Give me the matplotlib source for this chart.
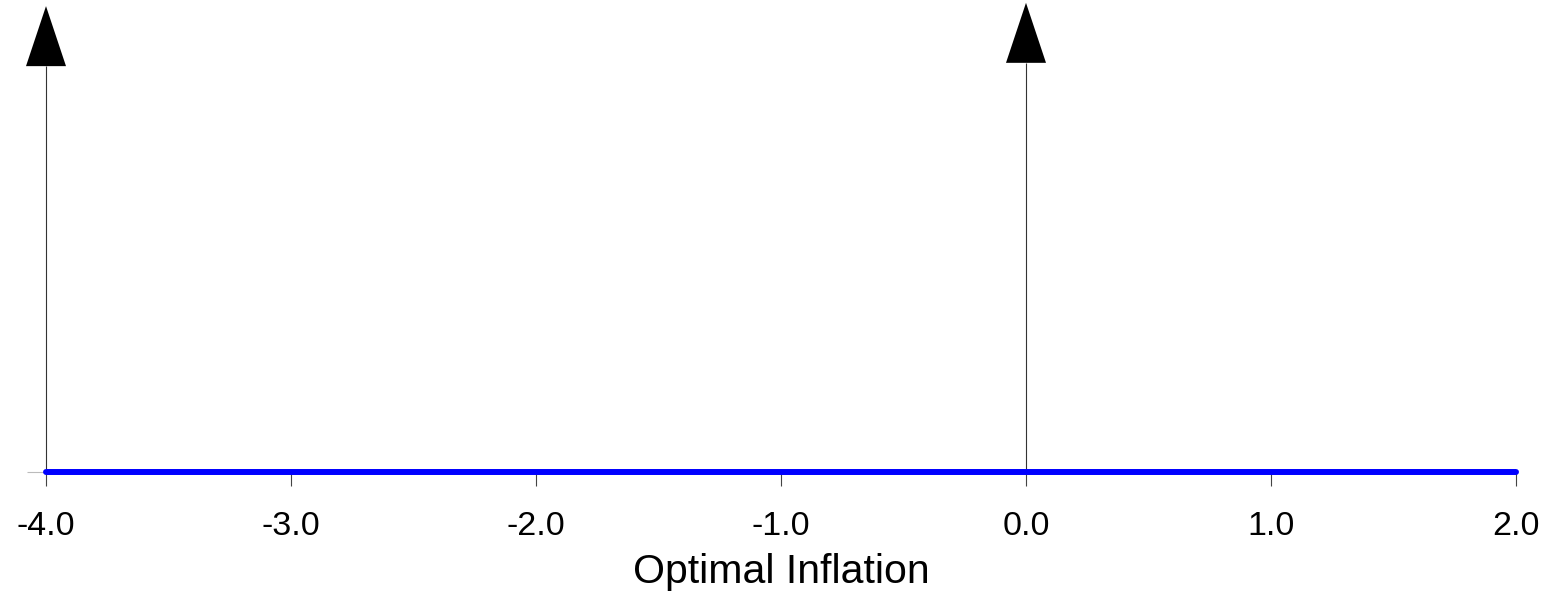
import matplotlib.pyplot as plt
import matplotlib as mpl

mpl.rcParams['font.family'] = ['Liberation Sans', 'DejaVu Sans']

# Point masses of the optimal inflation distribution
mass_locs = [-4.0, 0.0]
mass_heights = [0.987, 0.994]

# Continuous density part (zero everywhere)
dens_x = [-4.0, 2.0]
dens_y = [0.0, 0.0]

xticks = [-4.0, -3.0, -2.0, -1.0, 0.0, 1.0, 2.0]
xticklabels = ['%.1f' % t for t in xticks]

fig = plt.figure(figsize=(15.43, 5.94), dpi=100)
ax = fig.add_axes([46 / 1543, (594 - 472) / 594, 1470 / 1543, 472 / 594])

ax.set_xlim(-4.0, 2.0)
ax.set_ylim(0, 1.0)

# arrows for the point masses
px_x = 6.0 / 1470  # data units per pixel, x
px_y = 1.0 / 472   # data units per pixel, y
for loc, h in zip(mass_locs, mass_heights):
    ax.vlines(loc, 0, h - 60 * px_y, color='#333333', lw=0.8, clip_on=False, zorder=2)
    ax.arrow(loc, h - 60 * px_y, 0, 60 * px_y, width=0,
             head_width=40 * px_x, head_length=60 * px_y,
             length_includes_head=True, color='black', lw=0, clip_on=False, zorder=3)

ax.plot(dens_x, dens_y, color='#0000ff', lw=4.3, solid_capstyle='round', clip_on=False, zorder=4)

for s in ['top', 'right', 'left', 'bottom']:
    ax.spines[s].set_visible(False)

ax.set_xticks(xticks)
ax.set_xticklabels(xticklabels, fontsize=24.5)
ax.tick_params(axis='x', direction='out', length=10, width=0.8, color='#444444', pad=18)
ax.set_yticks([0])
ax.set_yticklabels([])
ax.tick_params(axis='y', direction='out', length=14, width=0.8, color='#bbbbbb')

ax.set_xlabel('Optimal Inflation', fontsize=29.5, labelpad=8)

plt.savefig('out.png', dpi=100)
